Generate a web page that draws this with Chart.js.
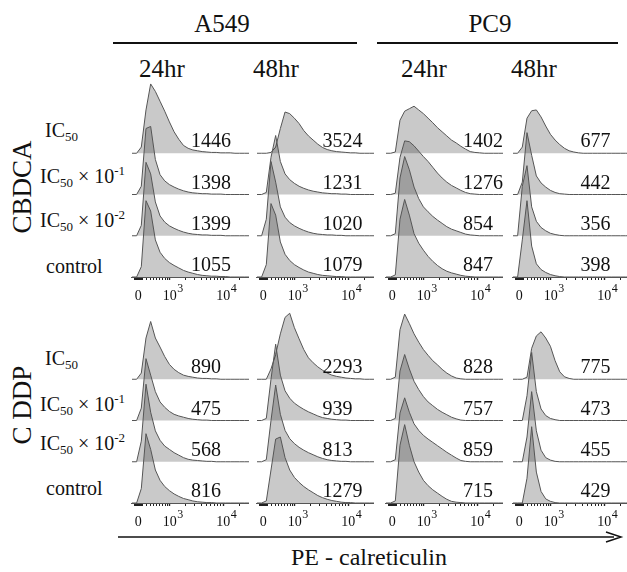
<!DOCTYPE html>
<html>
<head>
<meta charset="utf-8">
<script src="https://cdn.jsdelivr.net/npm/chart.js@4.4.0/dist/chart.umd.min.js"></script>
<style>
  html, body { margin:0; padding:0; background:#fff; }
  body { width:627px; height:572px; position:relative; overflow:hidden;
         font-family:'Liberation Serif','Times New Roman',serif; color:#111; }
  canvas { position:absolute; }
  .t { position:absolute; white-space:nowrap; line-height:1; font-family:'Liberation Serif',serif; }
  .t sub, .t sup { line-height:0; font-size:13px; }
  .t sub { vertical-align:-4px; }
  .t sup { vertical-align:8px; }
  .rule { position:absolute; height:2px; background:#111; }
</style>
</head>
<body>
<svg id="arrow" width="627" height="572" style="position:absolute;left:0;top:0">
  <line x1="118" y1="537" x2="614" y2="537" stroke="#111" stroke-width="1.5"/>
  <path d="M606,532 L621,537 L606,542" fill="none" stroke="#111" stroke-width="1.5"/>
</svg>
<script>
// ── DATA ───────────────────────────────────────────────────────────────────
// histogram bins (display channel, 0..1000) shared by every panel
const channels = [0,40,80,120,160,200,240,280,320,360,400,440,480,520,560,600,640,680,720,760,800,840,880,920,960,1000];

const cellLines  = ['A549', 'PC9'];
const timepoints = ['24hr', '48hr', '24hr', '48hr'];
const drugs      = ['CBDCA', 'C DDP'];
const doses      = ['IC<sub>50</sub>', 'IC<sub>50</sub> × 10<sup>-1</sup>', 'IC<sub>50</sub> × 10<sup>-2</sup>', 'control'];

// counts, in % of one row height; rows top -> bottom (IC50, x10-1, x10-2, control)
const cbdcaA549_24 = [
  [0,0,15,105,168,150,126,102,76,52,34,19,12,8,6,4,3,2,2,1,1,1,0,0,0,0],
  [0,0,20,160,165,85,48,33,24,18,13,9,6,4,3,2,2,1,1,1,0,0,0,0,0,0],
  [0,0,25,178,150,82,48,33,24,18,13,9,6,4,3,2,2,1,1,1,0,0,0,0,0,0],
  [0,0,25,185,160,90,60,45,35,28,22,16,12,9,6,4,3,2,2,1,1,0,0,0,0,0]
];
const cbdcaA549_48 = [
  [0,0,0,2,15,60,100,96,85,72,55,42,32,22,14,9,6,4,3,2,1,1,0,0,0,0],
  [0,0,5,90,143,80,50,36,27,20,15,11,8,6,4,3,2,2,1,1,0,0,0,0,0,0],
  [0,0,40,180,130,70,45,32,24,18,13,9,6,4,3,2,2,1,1,0,0,0,0,0,0,0],
  [0,0,30,178,150,85,55,40,30,23,17,12,9,6,4,3,2,1,1,0,0,0,0,0,0,0]
];
const cbdcaPc9_24 = [
  [0,0,3,80,102,108,114,105,96,85,74,62,52,42,32,25,17,10,4,2,1,0,0,0,0,0],
  [0,0,3,90,130,128,118,105,92,80,66,52,40,30,22,16,10,5,2,1,0,0,0,0,0,0],
  [0,0,5,140,192,160,118,90,70,58,47,38,30,22,16,12,8,4,2,1,0,0,0,0,0,0],
  [0,0,5,140,188,150,105,82,65,50,38,28,20,14,10,7,4,2,1,0,0,0,0,0,0,0]
];
const cbdcaPc9_48 = [
  [0,0,15,85,103,105,88,66,46,32,21,12,6,3,1,0,0,0,0,0,0,0,0,0,0,0],
  [0,0,30,150,95,45,28,18,10,5,2,1,0,0,0,0,0,0,0,0,0,0,0,0,0,0],
  [0,0,120,170,70,35,20,12,6,3,1,0,0,0,0,0,0,0,0,0,0,0,0,0,0,0],
  [0,0,90,185,75,32,18,11,6,3,1,0,0,0,0,0,0,0,0,0,0,0,0,0,0,0]
];
const cddpA549_24 = [
  [0,0,15,100,140,100,78,55,36,24,16,10,7,5,3,2,2,1,1,0,0,0,0,0,0,0],
  [0,0,30,150,110,70,45,32,22,15,11,8,5,3,2,1,1,0,0,0,0,0,0,0,0,0],
  [0,0,50,188,120,75,52,38,30,22,16,10,6,4,3,2,1,1,0,0,0,0,0,0,0,0],
  [0,0,35,168,130,80,55,40,30,22,16,11,8,5,3,2,1,1,0,0,0,0,0,0,0,0]
];
const cddpA549_48 = [
  [0,0,0,25,60,110,150,160,125,98,72,52,40,30,22,15,10,7,5,3,2,1,1,0,0,0],
  [0,0,5,100,185,110,72,54,42,34,27,21,16,11,7,5,3,2,1,1,0,0,0,0,0,0],
  [0,0,5,100,186,115,76,56,44,35,28,22,17,12,8,5,3,2,1,1,0,0,0,0,0,0],
  [0,0,5,80,155,160,110,80,62,50,40,32,25,18,13,9,6,4,2,1,1,0,0,0,0,0]
];
const cddpPc9_24 = [
  [0,0,5,120,158,135,110,90,72,58,45,35,24,15,8,3,1,0,0,0,0,0,0,0,0,0],
  [0,0,5,120,160,125,95,75,58,45,36,27,20,14,8,4,1,0,0,0,0,0,0,0,0,0],
  [0,0,5,118,155,120,92,76,64,55,47,39,31,23,16,9,3,1,0,0,0,0,0,0,0,0],
  [0,0,5,140,190,140,100,75,55,42,32,24,16,9,4,2,1,0,0,0,0,0,0,0,0,0]
];
const cddpPc9_48 = [
  [0,0,0,5,75,105,115,100,80,45,18,6,2,0,0,0,0,0,0,0,0,0,0,0,0,0],
  [0,0,0,60,165,70,28,12,5,2,0,0,0,0,0,0,0,0,0,0,0,0,0,0,0,0],
  [0,0,0,60,170,75,28,10,4,1,0,0,0,0,0,0,0,0,0,0,0,0,0,0,0,0],
  [0,0,0,60,185,75,28,10,4,1,0,0,0,0,0,0,0,0,0,0,0,0,0,0,0,0]
];

// mean fluorescence printed in each row, per column (A549 24/48, PC9 24/48)
const cbdcaMfi = [[1446,1398,1399,1055],[3524,1231,1020,1079],[1402,1276,854,847],[677,442,356,398]];
const cddpMfi  = [[890,475,568,816],[2293,939,813,1279],[828,757,859,715],[775,473,455,429]];

// axis ticks (fluorescence units)
const tickValues = [0, 1000, 10000];
const tickBase   = ['0', '10', '10'];
const tickExp    = ['', '3', '4'];
const minorTicks = [-100,-80,-60,-40,-20,20,40,60,80,100,200,300,400,500,600,700,800,900,
                    2000,3000,4000,5000,6000,7000,8000,9000,20000];

// ── LAYOUT ─────────────────────────────────────────────────────────────────
const COL_LEFT  = [126, 251, 380, 507];
const COL_W     = 123;
const AREA_H    = 231;
const AXIS_H    = 32;
const AXIS_Y    = [277, 503];
const Y_MAX     = 560;
const ROW_U     = 100;
const LABEL_CH  = [504, 561, 659, 577];
const FONT      = "'Liberation Serif', serif";

// biexponential display transform (fluorescence -> channel)
const chan = v => 53 + 204.6 * Math.asinh(v / 575);

// ── TEXT ───────────────────────────────────────────────────────────────────
function addText(html, x, baseline, size, align) {
  const el = document.createElement('div');
  el.className = 't';
  el.innerHTML = html;
  el.style.fontSize = size + 'px';
  el.style.top = (baseline - 0.84 * size) + 'px';
  el.style.left = x + 'px';
  if (align === 'center') el.style.transform = 'translateX(-50%)';
  document.body.appendChild(el);
  return el;
}
function addRule(x1, x2, y) {
  const el = document.createElement('div');
  el.className = 'rule';
  el.style.left = x1 + 'px'; el.style.width = (x2 - x1) + 'px'; el.style.top = y + 'px';
  document.body.appendChild(el);
}

addText(cellLines[0], 222, 32, 25, 'center');
addText(cellLines[1], 490, 32, 25, 'center');
addRule(113, 357, 42);
addRule(377, 618, 42);
[162, 276, 424, 534].forEach((x, i) => addText(timepoints[i], x, 77, 25, 'center'));

const rowBase = [[137, 183, 227, 273], [365, 411, 450, 495]];
const rowLeft = [45, 40, 40, 46];
rowBase.forEach(b => b.forEach((y, r) => addText(doses[r], rowLeft[r], y, 20)));

[[187, 0], [405, 1]].forEach(([cy, i]) => {
  const el = document.createElement('div');
  el.className = 't';
  el.textContent = drugs[i];
  el.style.fontSize = '27px';
  el.style.left = '22px'; el.style.top = cy + 'px';
  el.style.transform = 'translate(-50%,-50%) rotate(-90deg)';
  document.body.appendChild(el);
});

addText('PE - calreticulin', 369, 565, 24, 'center');

// ── PLUGINS ────────────────────────────────────────────────────────────────
const rowNumbers = {
  id: 'rowNumbers',
  afterDatasetsDraw(chart, args, opts) {
    const {ctx, scales:{x, y}} = chart;
    ctx.save();
    ctx.font = '20px ' + FONT;
    ctx.fillStyle = '#111';
    ctx.textAlign = 'left';
    ctx.textBaseline = 'alphabetic';
    opts.values.forEach((v, r) => {
      ctx.fillText(String(v), x.getPixelForValue(opts.labelCh), y.getPixelForValue((3 - r) * ROW_U) - 6);
    });
    ctx.restore();
  }
};
const superscripts = {
  id: 'superscripts',
  afterDraw(chart) {
    const {ctx, scales:{x}} = chart;
    ctx.save();
    ctx.fillStyle = '#111';
    tickValues.forEach((v, i) => {
      if (!tickExp[i]) return;
      ctx.font = '14px ' + FONT;
      const w = ctx.measureText(tickBase[i]).width;
      ctx.font = '12px ' + FONT;
      ctx.textAlign = 'left';
      ctx.textBaseline = 'alphabetic';
      ctx.fillText(tickExp[i], x.getPixelForValue(chan(v)) + w / 2 + 0.5, x.top + 15);
    });
    ctx.restore();
  }
};

// ── PANELS ─────────────────────────────────────────────────────────────────
const allTicks = tickValues.concat(minorTicks).sort((a, b) => a - b);

function panel(block, col, hists, mfi) {
  const cv = document.createElement('canvas');
  cv.width = COL_W; cv.height = AREA_H + AXIS_H;
  cv.style.left = COL_LEFT[col] + 'px';
  cv.style.top  = (AXIS_Y[block] - AREA_H) + 'px';
  document.body.appendChild(cv);

  const datasets = hists.map((h, r) => {
    const base = (3 - r) * ROW_U;
    return {
      data: channels.map((c, i) => ({x: c, y: base + h[i]})),
      fill: {value: base},
      backgroundColor: 'rgba(0,0,0,0.21)',
      borderColor: '#555',
      borderWidth: 1,
      pointRadius: 0,
      tension: 0,
      order: 3 - r,
    };
  });

  new Chart(cv, {
    type: 'line',
    data: { datasets },
    plugins: [rowNumbers, superscripts],
    options: {
      responsive: false,
      animation: false,
      devicePixelRatio: 1,
      events: [],
      layout: { padding: 0 },
      plugins: {
        legend: { display:false },
        tooltip: { enabled:false },
        rowNumbers: { values: mfi, labelCh: LABEL_CH[col] },
      },
      scales: {
        x: {
          type: 'linear', min: 0, max: 1000, position: 'bottom',
          afterBuildTicks: s => { s.ticks = allTicks.map(v => ({ value: chan(v) })); },
          afterFit: s => { s.height = AXIS_H; },
          ticks: {
            autoSkip: false, maxRotation: 0, minRotation: 0, padding: 8,
            font: { family: FONT, size: 14 }, color: '#111',
            callback: (val, i) => {
              const k = tickValues.indexOf(allTicks[i]);
              return k < 0 ? '' : tickBase[k];
            }
          },
          grid: {
            drawOnChartArea: false, drawTicks: true, tickLength: 3,
            tickColor: '#222',
            tickWidth: c => tickValues.includes(allTicks[c.index]) ? 1.4 : 1,
          },
          border: { display: true, color: '#555', width: 1 },
        },
        y: { display: false, min: 0, max: Y_MAX },
      },
    },
  });
}

[cbdcaA549_24, cbdcaA549_48, cbdcaPc9_24, cbdcaPc9_48].forEach((h, c) => panel(0, c, h, cbdcaMfi[c]));
[cddpA549_24, cddpA549_48, cddpPc9_24, cddpPc9_48].forEach((h, c) => panel(1, c, h, cddpMfi[c]));
</script>
</body>
</html>
